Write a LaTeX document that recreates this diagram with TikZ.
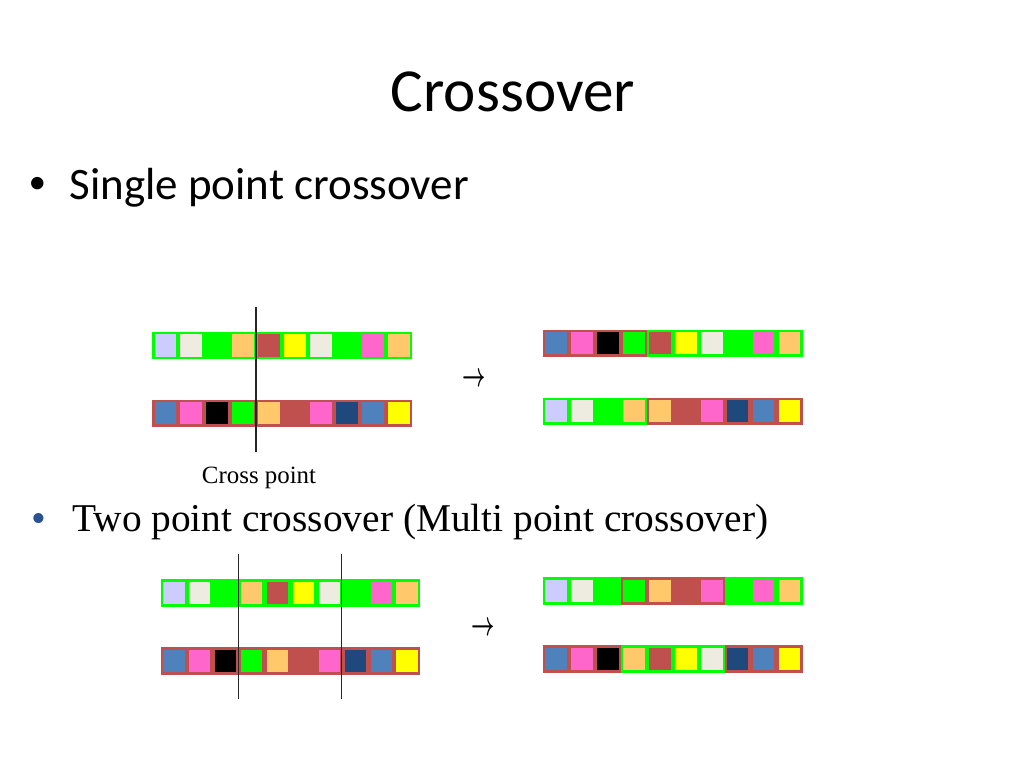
\documentclass[tikz,border=0pt]{standalone}
\usepackage{fontspec}
\setmainfont{Liberation Serif}
\newfontfamily\slidefont{Carlito}
\usetikzlibrary{positioning}
\definecolor{lav}{HTML}{CCCCFF}
\definecolor{bei}{HTML}{EEECE1}
\definecolor{grn}{HTML}{00FF00}
\definecolor{org}{HTML}{FFC96B}
\definecolor{brn}{HTML}{C0504D}
\definecolor{yel}{HTML}{FFFF00}
\definecolor{pnk}{HTML}{FF66CC}
\definecolor{blu}{HTML}{4F81BD}
\definecolor{nvy}{HTML}{1F497D}
\definecolor{blk}{HTML}{000000}
\definecolor{bulletblue}{HTML}{2A5192}
\tikzset{
  cutline/.style={draw=black!85,line width=1.1pt},
  slidetext/.style={inner sep=0pt,anchor=base west},
  arrowtext/.style={inner sep=0pt,font=\fontsize{15.5}{15.5}\selectfont}}
\newcommand\tallarrow{\scalebox{1}[1.7]{\boldmath$\rightarrow$}}
% one chromosome: left, top, gene/parent colour pairs
\newcommand\chromosome[3]{%
  \foreach \g/\p [count=\i from 0] in {#3}{
    \fill[fill=\p] ({#1+\i*25.95},#2) rectangle ++(25.95,27.6);
    \fill[fill=\g] ({#1+\i*25.95+2.2},{#2+2.7}) rectangle ++(21.6,22.2);}}

\begin{document}
\begin{tikzpicture}[x=0.025cm,y=-0.025cm]
\fill[white] (0,0) rectangle (1024,768);
\node[anchor=base,inner sep=0pt,font=\slidefont\fontsize{43.5}{44}\selectfont] (title) at (512.9,111.7) {Crossover};
\node[inner sep=0pt,font=\slidefont\fontsize{25}{25}\selectfont] (bullet1) at (37.3,185.5) {•};
\node[slidetext,font=\slidefont\fontsize{32}{32}\selectfont] (single) at (69.3,199.3) {Single point crossover};
% single point
\chromosome{152.3}{331.7}{lav/grn,bei/grn,grn/grn,org/grn,brn/grn,yel/grn,bei/grn,grn/grn,pnk/grn,org/grn}
\chromosome{152.3}{399.5}{blu/brn,pnk/brn,blk/brn,grn/brn,org/brn,brn/brn,pnk/brn,nvy/brn,blu/brn,yel/brn}
\draw[cutline] (256,307)--(256,452);
\node[arrowtext] (arrow1) at (474.5,380) {\tallarrow};
\chromosome{543}{329.5}{blu/brn,pnk/brn,blk/brn,grn/brn,brn/grn,yel/grn,bei/grn,grn/grn,pnk/grn,org/grn}
\chromosome{543}{397.5}{lav/grn,bei/grn,grn/grn,org/grn,org/brn,brn/brn,pnk/brn,nvy/brn,blu/brn,yel/brn}
\node[slidetext,font=\fontsize{17.7}{18}\selectfont] (crosspt) at (201.7,483.3) {Cross point};
\node[inner sep=0pt,text=bulletblue,font=\fontsize{30}{30}\selectfont] (bullet2) at (39.3,522.5) {•};
\node[slidetext,font=\fontsize{28}{28}\selectfont] (multi) at (72,531) {Two point crossover (Multi point crossover)};
% two point
\chromosome{160.7}{579}{lav/grn,bei/grn,grn/grn,org/grn,brn/grn,yel/grn,bei/grn,grn/grn,pnk/grn,org/grn}
\chromosome{160.7}{647}{blu/brn,pnk/brn,blk/brn,grn/brn,org/brn,brn/brn,pnk/brn,nvy/brn,blu/brn,yel/brn}
\draw[cutline] (238.7,554)--(238.7,699);\draw[cutline] (341.5,554)--(341.5,699);
\node[arrowtext] (arrow2) at (483,628.3) {\tallarrow};
\chromosome{543}{577}{lav/grn,bei/grn,grn/grn,grn/brn,org/brn,brn/brn,pnk/brn,grn/grn,pnk/grn,org/grn}
\chromosome{543}{645}{blu/brn,pnk/brn,blk/brn,org/grn,brn/grn,yel/grn,bei/grn,nvy/brn,blu/brn,yel/brn}
\end{tikzpicture}
\end{document}
